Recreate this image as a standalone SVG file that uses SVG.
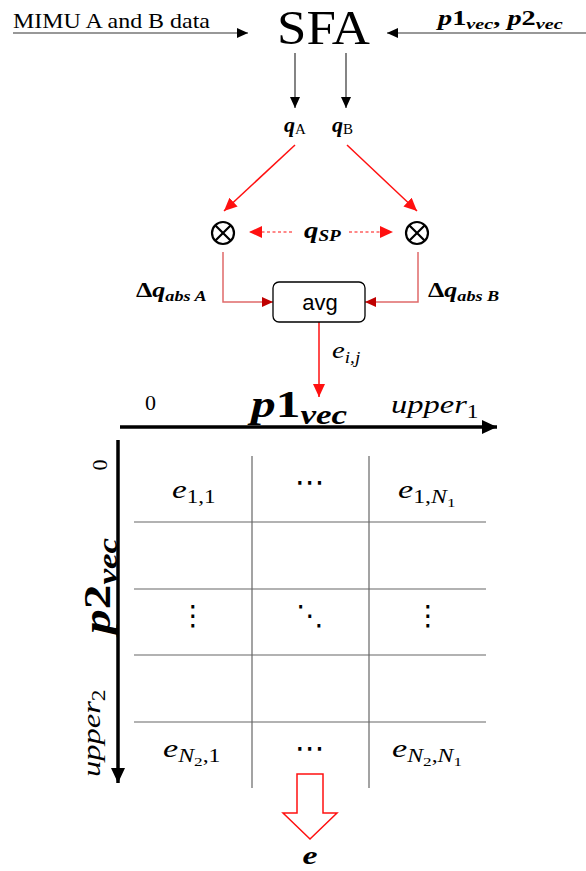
<svg xmlns="http://www.w3.org/2000/svg" width="586" height="871" viewBox="0 0 586 871">
<style>
  .tr { font-family: "Liberation Serif", "Times New Roman", serif; fill: #000; }
  .m { font-family: "Liberation Serif", "Times New Roman", serif; fill: #000; }
  .bi { font-weight: bold; font-style: italic; }
  .b { font-weight: bold; font-style: normal; }
  .it { font-style: italic; }
  .n { font-style: normal; }
  .dots { font-family: "DejaVu Sans", sans-serif; fill: #000; }
  .sans { font-family: "Liberation Sans", Arial, sans-serif; fill: #000; }
  .thin { stroke: #333; stroke-width: 1.2; fill: none; }
  .axis { stroke: #000; stroke-width: 3.5; fill: none; }
  .grid { stroke: #666; stroke-width: 1.2; fill: none; }
  .red { stroke: #ff1010; stroke-width: 1.5; fill: none; }
  .pink { stroke: #e06a6a; stroke-width: 1.5; fill: none; }
  .dash { stroke: #ff1010; stroke-width: 1.2; fill: none; stroke-dasharray: 3 2.5; }
</style>
<defs>
  <marker id="ab" markerUnits="userSpaceOnUse" markerWidth="12" markerHeight="10" refX="11" refY="5" orient="auto">
    <path d="M0,0 L11,5 L0,10 Z" fill="#000"/>
  </marker>
  <marker id="ax" markerUnits="userSpaceOnUse" markerWidth="16" markerHeight="14" refX="15" refY="7" orient="auto">
    <path d="M0,0 L15,7 L0,14 Z" fill="#000"/>
  </marker>
  <marker id="ar" markerUnits="userSpaceOnUse" markerWidth="14" markerHeight="12" refX="13" refY="6" orient="auto">
    <path d="M0,0 L13,6 L0,12 Z" fill="#ff1010"/>
  </marker>
  <marker id="ard" markerUnits="userSpaceOnUse" markerWidth="12" markerHeight="10" refX="11" refY="5" orient="auto">
    <path d="M0,0 L11,5 L0,10 Z" fill="#c00000"/>
  </marker>
</defs>

<g id="connectors">
  <line class="thin" x1="13" y1="33" x2="248" y2="33" marker-end="url(#ab)"/>
  <line class="thin" x1="586" y1="33" x2="387" y2="33" marker-end="url(#ab)"/>
  <line class="thin" x1="295" y1="53" x2="295" y2="108" marker-end="url(#ab)"/>
  <line class="thin" x1="346" y1="53" x2="346" y2="108" marker-end="url(#ab)"/>
  <line class="red" x1="295" y1="145" x2="224" y2="211" marker-end="url(#ar)"/>
  <line class="red" x1="347" y1="145" x2="417" y2="211" marker-end="url(#ar)"/>
  <line class="dash" x1="292" y1="232" x2="249" y2="232" marker-end="url(#ar)"/>
  <line class="dash" x1="349" y1="232" x2="393" y2="232" marker-end="url(#ar)"/>
  <polyline class="pink" points="223,252 223,302 273,302" marker-end="url(#ard)"/>
  <polyline class="pink" points="418,252 418,302 365,302" marker-end="url(#ard)"/>
  <line class="red" x1="319" y1="322" x2="319" y2="397" marker-end="url(#ar)"/>
  <line class="axis" x1="120" y1="427" x2="497" y2="427" marker-end="url(#ax)"/>
  <line class="axis" x1="118" y1="440" x2="118" y2="783" marker-end="url(#ax)"/>
</g>

<g id="input-mimu">
  <text class="tr" x="13" y="28" font-size="22" textLength="197" lengthAdjust="spacingAndGlyphs">MIMU A and B data</text>
</g>
<g id="sfa">
  <text class="tr" x="277" y="44" font-size="48" textLength="93" lengthAdjust="spacingAndGlyphs">SFA</text>
</g>
<g id="input-p">
  <text class="m bi" transform="translate(438,25) scale(1.35,1)" font-size="21">p<tspan class="b">1</tspan><tspan font-size="15" dy="4">vec</tspan><tspan class="b" dy="-4">, </tspan>p<tspan class="b">2</tspan><tspan font-size="15" dy="4">vec</tspan></text>
</g>
<g id="qA">
  <text class="m bi" x="284" y="132" font-size="22">q<tspan font-weight="normal" font-style="normal" font-size="15" dy="2">A</tspan></text>
</g>
<g id="qB">
  <text class="m bi" x="332" y="132" font-size="22">q<tspan font-weight="normal" font-style="normal" font-size="15" dy="2">B</tspan></text>
</g>
<g id="mult-A">
  <circle cx="223" cy="233" r="11" fill="none" stroke="#000" stroke-width="2.2"/>
  <path d="M215.2,225.2 L230.8,240.8 M230.8,225.2 L215.2,240.8" stroke="#000" stroke-width="2.2"/>
</g>
<g id="mult-B">
  <circle cx="417" cy="233" r="11" fill="none" stroke="#000" stroke-width="2.2"/>
  <path d="M409.2,225.2 L424.8,240.8 M424.8,225.2 L409.2,240.8" stroke="#000" stroke-width="2.2"/>
</g>
<g id="qSP">
  <text class="m bi" transform="translate(304,238) scale(1.2,1)" font-size="24">q<tspan font-size="16" dy="3">SP</tspan></text>
</g>
<g id="dqA">
  <text class="m b" transform="translate(136,297) scale(1.3,1)" font-size="20">Δ<tspan class="bi">q</tspan><tspan class="bi" font-size="14" dy="4">abs A</tspan></text>
</g>
<g id="dqB">
  <text class="m b" transform="translate(428,297) scale(1.3,1)" font-size="20">Δ<tspan class="bi">q</tspan><tspan class="bi" font-size="14" dy="4">abs B</tspan></text>
</g>
<g id="avg">
  <rect x="273" y="282" width="92" height="40" rx="6" fill="#fff" stroke="#000" stroke-width="1.3"/>
  <text class="sans" x="320" y="310" font-size="22" text-anchor="middle">avg</text>
</g>
<g id="eij">
  <text class="m it" transform="translate(332,358) scale(1.2,1)" font-size="24">e<tspan font-size="16" dy="5">i,j</tspan></text>
</g>

<g id="axis-p1">
  <text class="tr" x="145" y="410" font-size="22">0</text>
  <text class="m bi" transform="translate(251,417) scale(1.3,1)" font-size="38">p<tspan class="b">1</tspan><tspan font-size="27" dy="7">vec</tspan></text>
  <text class="m it" transform="translate(391,413) scale(1.3,1)" font-size="25">upper<tspan class="n" font-size="18" dy="5">1</tspan></text>
</g>
<g id="axis-p2">
  <text class="tr" transform="translate(107,465) rotate(-90)" font-size="22" text-anchor="middle">0</text>
  <text class="m bi" transform="translate(110,634) rotate(-90) scale(1.3,1)" font-size="38">p<tspan class="b">2</tspan><tspan font-size="27" dy="7">vec</tspan></text>
  <text class="m it" transform="translate(100,777) rotate(-90) scale(1.3,1)" font-size="25">upper<tspan class="n" font-size="18" dy="5">2</tspan></text>
</g>

<g id="grid">
  <line class="grid" x1="252" y1="456" x2="252" y2="788"/>
  <line class="grid" x1="369" y1="456" x2="369" y2="788"/>
  <line class="grid" x1="134" y1="522" x2="486" y2="522"/>
  <line class="grid" x1="134" y1="589" x2="486" y2="589"/>
  <line class="grid" x1="134" y1="655" x2="486" y2="655"/>
  <line class="grid" x1="134" y1="722" x2="486" y2="722"/>
</g>
<g id="cells">
  <text class="m it" transform="translate(172,498) scale(1.28,1)" font-size="26">e<tspan class="n" font-size="18" dy="5">1,1</tspan></text>
  <text class="dots" x="310" y="492" font-size="30" text-anchor="middle">⋯</text>
  <text class="m it" transform="translate(398,498) scale(1.32,1)" font-size="26">e<tspan class="n" font-size="18" dy="5">1,</tspan><tspan font-size="18">N</tspan><tspan class="n" font-size="13" dy="4">1</tspan></text>
  <text class="dots" x="193" y="625" font-size="28" text-anchor="middle">⋮</text>
  <text class="dots" x="310" y="625" font-size="28" text-anchor="middle">⋱</text>
  <text class="dots" x="428" y="625" font-size="28" text-anchor="middle">⋮</text>
  <text class="m it" transform="translate(163,757) scale(1.32,1)" font-size="26">e<tspan font-size="18" dy="5">N</tspan><tspan class="n" font-size="13" dy="4">2</tspan><tspan class="n" font-size="18" dy="-4">,1</tspan></text>
  <text class="dots" x="310" y="758" font-size="30" text-anchor="middle">⋯</text>
  <text class="m it" transform="translate(392,757) scale(1.32,1)" font-size="26">e<tspan font-size="18" dy="5">N</tspan><tspan class="n" font-size="13" dy="4">2</tspan><tspan class="n" font-size="18" dy="-4">,</tspan><tspan font-size="18">N</tspan><tspan class="n" font-size="13" dy="4">1</tspan></text>
</g>

<g id="output-arrow">
  <polygon points="297,774 323,774 323,813 337,813 310,839 283,813 297,813" fill="#fff" stroke="#ff1010" stroke-width="1.5"/>
</g>
<g id="output-e">
  <text class="m bi" transform="translate(310,864) scale(1.3,1)" font-size="26" text-anchor="middle">e</text>
</g>
</svg>
